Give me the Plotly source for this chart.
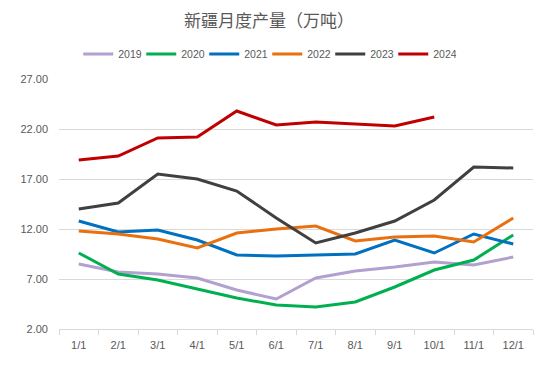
import plotly.graph_objects as go

months = ["1/1", "2/1", "3/1", "4/1", "5/1", "6/1", "7/1", "8/1", "9/1", "10/1", "11/1", "12/1"]
s2019 = [8.5, 7.7, 7.5, 7.1, 5.9, 5.0, 7.1, 7.8, 8.2, 8.7, 8.4, 9.2]
s2020 = [9.6, 7.5, 6.9, 6.0, 5.1, 4.4, 4.2, 4.7, 6.2, 7.9, 8.9, 11.4]
s2021 = [12.8, 11.7, 11.9, 10.9, 9.4, 9.3, 9.4, 9.5, 10.9, 9.6, 11.5, 10.5]
s2022 = [11.8, 11.5, 11.0, 10.1, 11.6, 12.0, 12.3, 10.8, 11.2, 11.3, 10.7, 13.1]
s2023 = [14.0, 14.6, 17.5, 17.0, 15.8, 13.1, 10.6, 11.6, 12.8, 14.9, 18.2, 18.1]
s2024 = [18.9, 19.3, 21.1, 21.2, 23.8, 22.4, 22.7, 22.5, 22.3, 23.2]
yticks = [2, 7, 12, 17, 22, 27]

series = [
    ("2019", s2019, "#B1A0D0"),
    ("2020", s2020, "#00B050"),
    ("2021", s2021, "#0070C0"),
    ("2022", s2022, "#E8700F"),
    ("2023", s2023, "#404040"),
    ("2024", s2024, "#C00000"),
]

fig = go.Figure()
for name, vals, color in series:
    fig.add_trace(go.Scatter(
        x=months[:len(vals)], y=vals, name=name, mode="lines",
        line=dict(color=color, width=3),
    ))

# page body has an 8px default margin, so the figure is 8px smaller and offset
fig.update_layout(
    width=542, height=358,
    margin=dict(l=47, r=17, t=71, b=37),
    paper_bgcolor="white", plot_bgcolor="white",
    title=dict(text="新疆月度产量（万吨）", xref="container", x=261 / 542, xanchor="center",
               y=1 - 13 / 358, yanchor="middle",
               font=dict(family="Noto Sans CJK SC", size=17, color="#595959")),
    legend=dict(orientation="h", x=(257 - 47) / 478, xanchor="center",
                y=1 + 25 / 250, yanchor="middle",
                font=dict(family="Liberation Sans, Arial", size=10.5, color="#595959"),
                itemwidth=30, tracegroupgap=0, entrywidth=18, entrywidthmode="pixels"),
    showlegend=True,
    font=dict(family="Liberation Sans, Arial", size=11, color="#595959"),
)
fig.update_xaxes(
    type="category", categoryorder="array", categoryarray=months,
    showline=True, linecolor="#D9D9D9", linewidth=1,
    ticks="outside", tickson="boundaries", ticklen=5, tickcolor="#D9D9D9",
    showgrid=False, tickfont=dict(size=11, color="#595959"),
    ticklabelstandoff=6,
    range=[-0.5, 11.5],
)
fig.update_yaxes(
    range=[2, 27], tickvals=yticks, ticktext=[f"{v:.2f}" for v in yticks],
    showgrid=True, gridcolor="#D9D9D9", gridwidth=1, zeroline=False,
    showline=False, tickfont=dict(size=11, color="#595959"), ticklabelstandoff=10,
)
fig.write_html("out.html")
